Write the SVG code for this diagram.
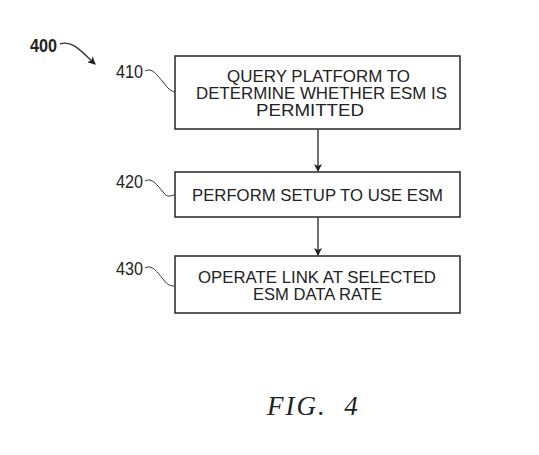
<svg xmlns="http://www.w3.org/2000/svg" width="539" height="455" viewBox="0 0 539 455">
<style>
.box{fill:#fff;stroke:#333;stroke-width:1.6}
.t{font-family:"Liberation Sans",Arial,sans-serif;font-size:16.5px;fill:#222;text-anchor:middle}
.lbl{font-family:"Liberation Sans",Arial,sans-serif;font-size:18px;fill:#222}
.lead{fill:none;stroke:#333;stroke-width:1}
.conn{stroke:#333;stroke-width:1.4;fill:none}
</style>
<defs>
<marker id="ah" markerWidth="8" markerHeight="8" refX="7" refY="4" orient="auto" markerUnits="userSpaceOnUse">
<path d="M0,0 L8,4 L0,8 L2,4 Z" fill="#222"/>
</marker>
</defs>
<g id="ref400">
<text x="30" y="52" class="lbl" style="font-weight:bold" textLength="27" lengthAdjust="spacingAndGlyphs">400</text>
<path d="M60,44 C72,40 80,50 95,64" class="conn" marker-end="url(#ah)"/>
</g>
<g id="n410">
<rect x="175" y="56" width="285" height="73" class="box"/>
<text class="t" x="318.5" y="82" textLength="183" lengthAdjust="spacingAndGlyphs">QUERY PLATFORM TO</text>
<text class="t" x="321.5" y="99" textLength="251" lengthAdjust="spacingAndGlyphs">DETERMINE WHETHER ESM IS</text>
<text class="t" x="310" y="116" textLength="108" lengthAdjust="spacingAndGlyphs">PERMITTED</text>
<text x="116" y="78" class="lbl" textLength="27" lengthAdjust="spacingAndGlyphs">410</text>
<path d="M145,71 C152,67 157,75 163,82 C168,89 171,91 175,92" class="lead"/>
</g>
<g id="n420">
<rect x="175" y="172" width="285" height="45" class="box"/>
<text class="t" x="317.5" y="201" textLength="251" lengthAdjust="spacingAndGlyphs">PERFORM SETUP TO USE ESM</text>
<text x="116" y="188" class="lbl" textLength="27" lengthAdjust="spacingAndGlyphs">420</text>
<path d="M145,181 C152,177 157,185 163,192 C168,199 171,195 175,195" class="lead"/>
</g>
<g id="n430">
<rect x="175" y="256" width="285" height="57" class="box"/>
<text class="t" x="317" y="283" textLength="238" lengthAdjust="spacingAndGlyphs">OPERATE LINK AT SELECTED</text>
<text class="t" x="317.5" y="300" textLength="129" lengthAdjust="spacingAndGlyphs">ESM DATA RATE</text>
<text x="116" y="275" class="lbl" textLength="27" lengthAdjust="spacingAndGlyphs">430</text>
<path d="M145,268 C152,264 157,272 163,279 C168,286 171,286 175,286" class="lead"/>
</g>
<g id="connectors">
<line x1="318" y1="129" x2="318" y2="171" class="conn" marker-end="url(#ah)"/>
<line x1="318" y1="217" x2="318" y2="255" class="conn" marker-end="url(#ah)"/>
</g>
<text x="267" y="415" style="font-family:'Liberation Serif','Times New Roman',serif;font-style:italic;font-size:27px;fill:#222;letter-spacing:2px" xml:space="preserve">FIG.  4</text>
</svg>
